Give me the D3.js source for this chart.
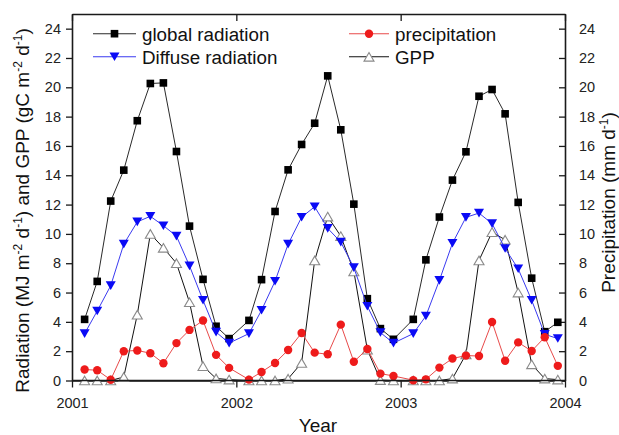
<!DOCTYPE html>
<html>
<head>
<meta charset="utf-8">
<script src="https://cdn.jsdelivr.net/npm/d3@7/dist/d3.min.js"></script>
<style>
  html, body { margin: 0; padding: 0; background: #fff; }
  svg { display: block; font-family: "Liberation Sans", Arial, sans-serif; }
</style>
</head>
<body>
<svg id="chart" width="619" height="435"></svg>
<script>
// Monthly means, 2001-2003
const years = [2001, 2002, 2003];
const sampleDays = [28, 56, 86, 115, 145, 174, 203, 232, 261, 291, 320, 349];

const globalRadiation = [
  4.17, 6.76, 12.24, 14.35, 17.72, 20.26, 20.3, 15.62, 10.53, 6.9, 3.7, 2.86,
  4.1, 6.88, 11.53, 14.37, 16.1, 17.55, 20.78, 17.1, 12.03, 5.58, 3.54, 2.81,
  4.17, 8.23, 11.15, 13.67, 15.6, 19.39, 19.85, 18.19, 12.15, 6.98, 3.33, 3.97
];
const diffuseRadiation = [
  3.2, 4.74, 6.47, 9.3, 10.82, 11.2, 10.56, 9.85, 7.82, 5.47, 3.3, 2.55,
  3.2, 4.79, 6.77, 9.3, 11.14, 11.85, 10.38, 9.44, 7.7, 5.06, 3.27, 2.55,
  3.2, 4.4, 6.83, 9.36, 11.13, 11.42, 10.7, 9.0, 7.62, 5.47, 3.15, 2.86
];
const precipitation = [
  0.75, 0.7, 0.05, 2.0, 2.05, 1.86, 1.18, 2.55, 3.45, 4.09, 1.75, 0.86,
  0.06, 0.58, 1.19, 2.08, 3.24, 1.9, 1.79, 3.81, 1.28, 2.15, 0.47, 0.31,
  0.02, 0.08, 0.88, 1.5, 1.7, 1.67, 3.99, 1.35, 2.6, 2.01, 2.95, 1.0
];
const gpp = [
  0, 0, 0, 0.24, 4.49, 10.0, 9.05, 8.0, 5.34, 0.98, 0.14, 0.06,
  0, 0, 0, 0.12, 1.2, 8.19, 11.18, 9.85, 7.44, 2.1, 0.03, 0,
  0, 0, 0, 0.13, 1.78, 8.19, 10.12, 9.6, 6.0, 1.1, 0.13, 0.06
];

const yearTicks = [2001, 2002, 2003, 2004];
const valueTicks = [0, 2, 4, 6, 8, 10, 12, 14, 16, 18, 20, 22, 24];

// decimal-year position of each monthly value
const dates = [];
years.forEach(y => sampleDays.forEach(d => dates.push(y + d / 365)));

const svg = d3.select("#chart");
const plotL = 72, plotR = 565, plotT = 14, plotB = 380.5;

const x = d3.scaleLinear().domain([2001, 2004]).range([plotL, plotR]);
const yL = d3.scaleLinear().domain([0, 25]).range([plotB, plotT]);   // radiation & GPP
const yR = d3.scaleLinear().domain([0, 25]).range([plotB, plotT]);   // precipitation

const axisColor = "#1a1a1a";
const tickFont = "14.5px";

// Bottom axis
const gx = svg.append("g").attr("transform", `translate(0,${plotB})`)
  .call(d3.axisBottom(x).tickValues(yearTicks).tickFormat(d3.format("d")).tickSizeInner(7).tickSizeOuter(0).tickPadding(10));
// Top axis (inward ticks, no labels)
const gxt = svg.append("g").attr("transform", `translate(0,${plotT})`)
  .call(d3.axisTop(x).tickValues(yearTicks).tickFormat("").tickSizeInner(-7).tickSizeOuter(0));
// Left axis
const gy = svg.append("g").attr("transform", `translate(${plotL},0)`)
  .call(d3.axisLeft(yL).tickValues(valueTicks).tickSizeInner(6).tickSizeOuter(0).tickPadding(5));
// Right axis (precipitation), inward ticks
const gyr = svg.append("g").attr("transform", `translate(${plotR},0)`)
  .call(d3.axisRight(yR).tickValues(valueTicks).tickSizeInner(-6).tickSizeOuter(0).tickPadding(14));

[gx, gxt, gy, gyr].forEach(g => {
  g.select(".domain").attr("stroke", axisColor).attr("stroke-width", 1.6);
  g.selectAll(".tick line").attr("stroke", axisColor).attr("stroke-width", 1.3);
  g.selectAll(".tick text").attr("fill", "#222").style("font-size", tickFont)
    .style("font-family", "'Liberation Sans', Arial, sans-serif");
});

// Line generators
const lineL = d3.line().x((d, i) => x(dates[i])).y(d => yL(d));
const lineR = d3.line().x((d, i) => x(dates[i])).y(d => yR(d));

// Marker shapes (bounding-box centred)
const sq = 7.6;
const triW = 10, triH = 8.6;
const dotR = 4.2;
const upTri = `M0,${-triH / 2}L${triW / 2},${triH / 2}L${-triW / 2},${triH / 2}Z`;
const downTri = `M0,${triH / 2}L${triW / 2},${-triH / 2}L${-triW / 2},${-triH / 2}Z`;

const plot = svg.append("g");

// Global radiation
plot.append("path").datum(globalRadiation).attr("d", lineL)
  .attr("fill", "none").attr("stroke", "#2a2a2a").attr("stroke-width", 1);
plot.append("g").selectAll("rect").data(globalRadiation).join("rect")
  .attr("x", (d, i) => x(dates[i]) - sq / 2).attr("y", d => yL(d) - sq / 2)
  .attr("width", sq).attr("height", sq).attr("fill", "#000");

// GPP
plot.append("path").datum(gpp).attr("d", lineL)
  .attr("fill", "none").attr("stroke", "#111").attr("stroke-width", 1);
plot.append("g").selectAll("path").data(gpp).join("path")
  .attr("d", upTri)
  .attr("transform", (d, i) => `translate(${x(dates[i])},${yL(d)})`)
  .attr("fill", "#fff").attr("stroke", "#8a8a8a").attr("stroke-width", 1.1);

// Diffuse radiation
plot.append("path").datum(diffuseRadiation).attr("d", lineL)
  .attr("fill", "none").attr("stroke", "#3a3af0").attr("stroke-width", 1);
plot.append("g").selectAll("path").data(diffuseRadiation).join("path")
  .attr("d", downTri)
  .attr("transform", (d, i) => `translate(${x(dates[i])},${yL(d)})`)
  .attr("fill", "#0a0af5");

// Precipitation (right axis)
plot.append("path").datum(precipitation).attr("d", lineR)
  .attr("fill", "none").attr("stroke", "#e84a4a").attr("stroke-width", 1);
plot.append("g").selectAll("circle").data(precipitation).join("circle")
  .attr("cx", (d, i) => x(dates[i])).attr("cy", d => yR(d))
  .attr("r", dotR).attr("fill", "#ee1b1b");

// Baseline drawn again over the markers sitting on zero
svg.append("line").attr("x1", plotL).attr("x2", plotR).attr("y1", plotB).attr("y2", plotB)
  .attr("stroke", axisColor).attr("stroke-width", 1.6);

// Legend
const legend = [
  { label: "global radiation", x0: 93, x1: 136, y: 33.7, color: "#2a2a2a", marker: "square" },
  { label: "Diffuse radiation", x0: 93, x1: 136, y: 56.8, color: "#3a3af0", marker: "down" },
  { label: "precipitation", x0: 349, x1: 389, y: 33.7, color: "#e84a4a", marker: "circle" },
  { label: "GPP", x0: 349, x1: 389, y: 56.8, color: "#111", marker: "up" }
];
const lg = svg.append("g");
legend.forEach(item => {
  const g = lg.append("g");
  g.append("line").attr("x1", item.x0).attr("x2", item.x1).attr("y1", item.y).attr("y2", item.y)
    .attr("stroke", item.color).attr("stroke-width", 1.1);
  const cx = (item.x0 + item.x1) / 2;
  if (item.marker === "square") {
    g.append("rect").attr("x", cx - sq / 2).attr("y", item.y - sq / 2).attr("width", sq).attr("height", sq).attr("fill", "#000");
  } else if (item.marker === "down") {
    g.append("path").attr("d", downTri).attr("transform", `translate(${cx},${item.y})`).attr("fill", "#0a0af5");
  } else if (item.marker === "circle") {
    g.append("circle").attr("cx", cx).attr("cy", item.y).attr("r", dotR).attr("fill", "#ee1b1b");
  } else {
    g.append("path").attr("d", upTri).attr("transform", `translate(${cx},${item.y})`)
      .attr("fill", "#fff").attr("stroke", "#8a8a8a").attr("stroke-width", 1.1);
  }
  g.append("text").attr("x", item.x1 + 6).attr("y", item.y + 6.8)
    .attr("fill", "#111").style("font-size", "18.8px").text(item.label);
});

// Axis titles
svg.append("text").attr("x", 318).attr("y", 432).attr("text-anchor", "middle")
  .attr("fill", "#111").style("font-size", "19px").text("Year");

// Titles with raised exponents: each exponent lifts by 7px, the following run drops back
function supTitle(sel, parts) {
  let raised = false;
  parts.forEach(p => {
    const ts = sel.append("tspan").text(p.t);
    if (p.sup) {
      ts.attr("dy", -7).style("font-size", "12px");
      raised = true;
    } else if (raised) {
      ts.attr("dy", 7);
      raised = false;
    }
  });
}

const yTitle = svg.append("text")
  .attr("transform", `translate(28.8,210.5) rotate(-90)`)
  .attr("text-anchor", "middle").attr("fill", "#111").style("font-size", "19px");
supTitle(yTitle, [
  { t: "Radiation (MJ m" }, { t: "-2", sup: true }, { t: " d" }, { t: "-1", sup: true },
  { t: ") and GPP (gC m" }, { t: "-2", sup: true }, { t: " d" }, { t: "-1", sup: true }, { t: ")" }
]);

const yrTitle = svg.append("text")
  .attr("transform", `translate(615,202.5) rotate(-90)`)
  .attr("text-anchor", "middle").attr("fill", "#111").style("font-size", "19px");
supTitle(yrTitle, [
  { t: "Precipitation (mm d" }, { t: "-1", sup: true }, { t: ")" }
]);
</script>
</body>
</html>
